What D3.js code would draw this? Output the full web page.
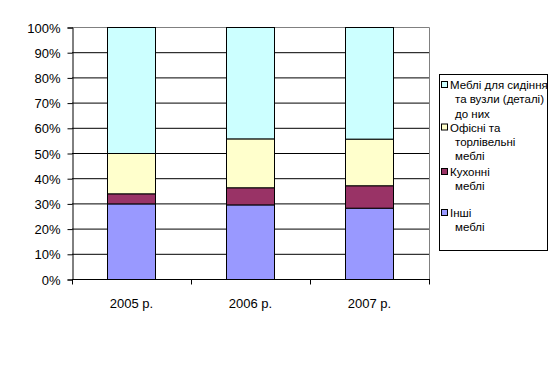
<!DOCTYPE html>
<html><head><meta charset="utf-8">
<script src="https://cdn.jsdelivr.net/npm/d3@7"></script>
<style>body{margin:0;background:#fff}svg{display:block}text{font-family:Arial,"Liberation Sans",sans-serif}</style>
</head><body>
<script>
const categories = ["2005 р.", "2006 р.", "2007 р."];
const seriesNames = ["Інші меблі", "Кухонні меблі", "Офісні та торлівельні меблі", "Меблі для сидіння та вузли (деталі) до них"];
const inshi = [30.0, 29.6, 28.3];
const kukhonni = [4.0, 6.8, 8.9];
const ofisni = [16.0, 19.4, 18.5];
const sydinnia = [50.0, 44.2, 44.3];
const yTicks = [0,10,20,30,40,50,60,70,80,90,100];
const colors = ["#9999FF", "#993366", "#FFFFCC", "#CCFFFF"];
const legendLines = [
  ["Меблі для сидіння", "та вузли (деталі)", "до них"],
  ["Офісні та", "торлівельні", "меблі"],
  ["Кухонні", "меблі", ""],
  ["Інші", "меблі"]
];

const W = 557, H = 392;
const svg = d3.select("body").append("svg").attr("width", W).attr("height", H);
const L = 72, R = 429, T = 27, B = 279;

const table = categories.map((c, i) => ({cat: c, s0: inshi[i], s1: kukhonni[i], s2: ofisni[i], s3: sydinnia[i]}));
const stack = d3.stack().keys(["s0","s1","s2","s3"]);
const stacked = stack(table);

const x = d3.scaleBand().domain(categories).range([L, R]).padding(0);
const y = d3.scaleLinear().domain([0, 100]).range([B, T]);

// gridlines
svg.append("g").selectAll("line").data(yTicks.filter(d => d > 0 && d < 100)).join("line")
  .attr("x1", L).attr("x2", R).attr("y1", d => y(d)+0.5).attr("y2", d => y(d)+0.5)
  .attr("stroke", "#000").attr("stroke-width", 1);
// plot border top/right grey
svg.append("path").attr("d", `M${L},${T+0.5}H${R+0.5}V${B}`).attr("fill","none").attr("stroke","#808080");

// bars
const bw = x.bandwidth() * 0.405;
svg.append("g").selectAll("g").data(stacked).join("g")
  .attr("fill", (d, i) => colors[i])
  .selectAll("rect").data(d => d).join("rect")
  .attr("x", d => Math.round(x(d.data.cat) + (x.bandwidth() - bw) / 2) + 0.5)
  .attr("width", Math.round(bw))
  .attr("y", d => y(d[1]) + 0.5)
  .attr("height", d => y(d[0]) - y(d[1]))
  .attr("stroke", "#000").attr("stroke-width", 1);

// y axis
const yAxis = d3.axisLeft(y).tickValues(yTicks).tickFormat(d => d + "%").tickSize(5).tickPadding(7);
const gy = svg.append("g").attr("transform", `translate(${L+0.5},0.5)`).call(yAxis);
gy.select(".domain").attr("stroke", "#000");
gy.selectAll(".tick line").attr("stroke", "#000");
gy.selectAll("text").attr("font-size", 13).attr("fill", "#000").attr("dy", "0.35em");

// x axis
const gx = svg.append("g").attr("transform", `translate(0,${B+0.5})`);
gx.append("line").attr("x1", L).attr("x2", R+1).attr("stroke", "#000");
const bounds = [L, ...categories.map(c => x(c) + x.bandwidth())];
gx.selectAll(".tk").data(bounds).join("line").attr("class","tk")
  .attr("x1", d => d + 0.5).attr("x2", d => d + 0.5).attr("y1", 0).attr("y2", 5).attr("stroke", "#000");
gx.selectAll(".lbl").data(categories).join("text").attr("class","lbl")
  .attr("x", d => x(d) + x.bandwidth()/2).attr("y", 28)
  .attr("text-anchor", "middle").attr("font-size", 13).attr("fill", "#000").text(d => d);

// legend
const lg = svg.append("g");
lg.append("rect").attr("x", 439.5).attr("y", 74.5).attr("width", 108).attr("height", 176)
  .attr("fill", "#fff").attr("stroke", "#000");
const itemY = [85, 127.5, 172, 213];
const order = [3, 2, 1, 0];
order.forEach((si, k) => {
  const yy = itemY[k];
  lg.append("rect").attr("x", 441.5).attr("y", yy - 3.5).attr("width", 6).attr("height", 6)
    .attr("fill", colors[si]).attr("stroke", "#000");
  legendLines[k].forEach((t, j) => {
    lg.append("text").attr("x", j === 0 ? 450 : 455).attr("y", yy + j * 14.3)
      .attr("dy", "0.35em").attr("font-size", 11.5).attr("fill", "#000").text(t);
  });
});
</script>
</body></html>
